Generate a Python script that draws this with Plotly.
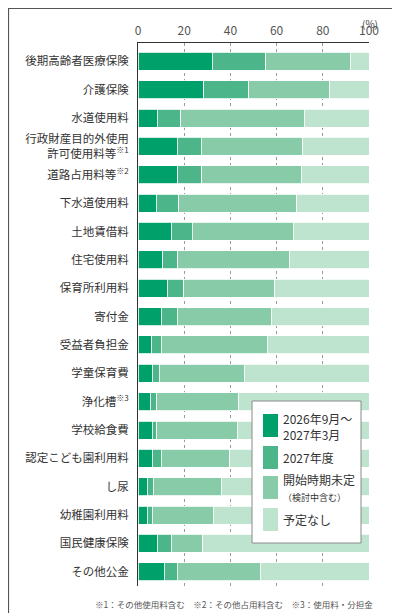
import plotly.graph_objects as go

# categories (top to bottom)
categories = ["後期高齢者医療保険", "介護保険", "水道使用料",
              "行政財産目的外使用<br>許可使用料等<sup>※1</sup>",
              "道路占用料等<sup>※2</sup>", "下水道使用料", "土地賃借料",
              "住宅使用料", "保育所利用料", "寄付金", "受益者負担金",
              "学童保育費", "浄化槽<sup>※3</sup>", "学校給食費",
              "認定こども園利用料", "し尿", "幼稚園利用料", "国民健康保険",
              "その他公金"]

# share of municipalities (%)
s_2026 = [32.2, 28.4, 8.4, 17.0, 17.3, 7.8, 14.3, 10.8, 12.7, 10.1,
          5.8, 6.1, 5.3, 6.2, 6.2, 4.0, 4.0, 8.4, 11.3]
s_2027 = [23.0, 19.6, 10.2, 10.3, 10.4, 9.9, 9.2, 6.5, 7.2, 6.9,
          4.3, 3.1, 2.8, 1.9, 3.8, 2.6, 2.2, 5.9, 5.6]
s_undecided = [36.7, 35.1, 53.3, 44.1, 43.0, 51.1, 43.7, 48.1, 39.4, 40.7,
               45.9, 36.8, 35.6, 34.9, 29.7, 29.5, 26.4, 13.8, 36.0]
s_none = [8.1, 16.9, 28.1, 28.6, 29.3, 31.2, 32.8, 34.6, 40.7, 42.3,
          44.0, 54.0, 56.3, 57.0, 60.3, 63.9, 67.4, 71.9, 47.1]

series_names = ["2026年9月～<br>2027年3月", "2027年度",
                "開始時期未定<br><span style='font-size:9px'>（検討中含む）</span>",
                "予定なし"]
colors = ["#00a06a", "#4db58a", "#88cba9", "#bee3cf"]
xticks = [0, 20, 40, 60, 80, 100]

FONT = "Noto Sans CJK JP, Noto Sans, sans-serif"

fig = go.Figure()
for vals, name, col in zip([s_2026, s_2027, s_undecided, s_none], series_names, colors):
    fig.add_trace(go.Bar(y=categories, x=vals, orientation="h", name=name,
                         marker=dict(color=col, line=dict(color="white", width=0.8)),
                         showlegend=False))

# pixel -> paper helpers (plot area is 130..361 x 35..578)
L, R, T, B = 130, 361, 35, 578
def px(x):
    return (x - L) / (R - L)
def py(y):
    return (B - y) / (B - T)

shapes = []
annos = []

# outer frame
shapes.append(dict(type="rect", xref="paper", yref="paper",
                   x0=px(0.5), x1=px(399.5), y0=py(612.5), y1=py(0.5),
                   line=dict(color="#555555", width=1.2), layer="above"))

# legend box
shapes.append(dict(type="rect", xref="paper", yref="paper",
                   x0=px(244), x1=px(353), y0=py(535), y1=py(393),
                   fillcolor="white", line=dict(color="#8a8a8a", width=1), layer="above"))
sw_top = [406, 438, 468, 500]
txt_y = [418, 449, 479, 511]
for i in range(4):
    shapes.append(dict(type="rect", xref="paper", yref="paper",
                       x0=px(255), x1=px(270), y0=py(sw_top[i] + 23), y1=py(sw_top[i]),
                       fillcolor=colors[i], line=dict(width=0), layer="above"))
    annos.append(dict(xref="paper", yref="paper", x=px(273), y=py(txt_y[i]),
                      text=series_names[i], showarrow=False, xanchor="left",
                      yanchor="middle", align="left",
                      font=dict(size=12, color="#333333", family=FONT)))

# unit label
annos.append(dict(xref="paper", yref="paper", x=px(372), y=py(15), text="(%)",
                  showarrow=False, xanchor="right", yanchor="middle",
                  font=dict(size=10, color="#444444", family=FONT)))

# footnote
annos.append(dict(xref="paper", yref="paper", x=px(367), y=py(596),
                  text="※1：その他使用料含む　※2：その他占用料含む　※3：使用料・分担金",
                  showarrow=False, xanchor="right", yanchor="middle",
                  font=dict(size=8.5, color="#555555", family=FONT)))

fig.update_layout(
    barmode="stack",
    bargap=0.365,
    width=400, height=613,
    margin=dict(l=L, r=400 - R, t=T, b=613 - B, pad=0, autoexpand=False),
    paper_bgcolor="white", plot_bgcolor="white",
    font=dict(family=FONT, color="#333333"),
    shapes=shapes, annotations=annos,
)
fig.update_xaxes(side="top", range=[0, 100], tickvals=xticks, automargin=False,
                 showline=True, linecolor="#333333", linewidth=1,
                 showgrid=True, gridcolor="#9a9a9a", griddash="dot", gridwidth=1,
                 zeroline=False, ticks="", ticklabelstandoff=2,
                 tickfont=dict(size=12, color="#555555", family=FONT))
fig.update_yaxes(type="category", range=[18.5, -0.645], automargin=False,
                 showline=True, linecolor="#333333", linewidth=1,
                 showgrid=False, ticks="", ticklabelstandoff=6,
                 tickfont=dict(size=11.5, color="#333333", family=FONT))

fig.write_html("out.html")
